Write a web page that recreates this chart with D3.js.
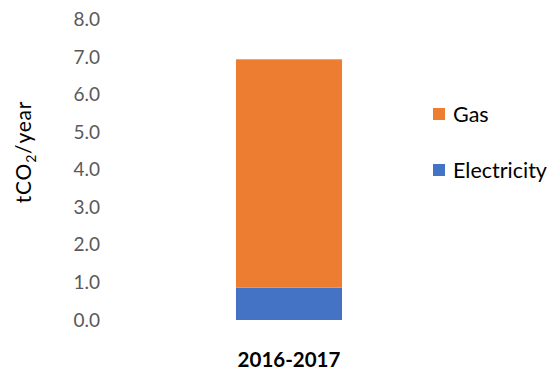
<!DOCTYPE html>
<html>
<head>
<meta charset="utf-8">
<script src="https://cdn.jsdelivr.net/npm/d3@7"></script>
<style>
  html, body { margin: 0; padding: 0; background: #fff; }
  svg { display: block; font-family: Lato, "Open Sans", sans-serif; }
</style>
</head>
<body>
<svg id="chart" width="560" height="372"></svg>
<script>
// Annual emissions by source, tCO2/year
const categories = ["2016-2017"];
const seriesNames = ["Electricity", "Gas"];
const electricity = [0.86];
const gas = [6.08];
const yTicks = [0, 1, 2, 3, 4, 5, 6, 7, 8];
const colors = { Electricity: "#4472C4", Gas: "#ED7D31" };

const svg = d3.select("#chart");
const W = 560, H = 372;
const plot = { top: 19.5, bottom: 320, left: 180, right: 398 };

const x = d3.scaleBand()
  .domain(categories)
  .range([plot.left, plot.right])
  .paddingInner(0.5)
  .paddingOuter(0.264);

const y = d3.scaleLinear()
  .domain([0, 8])
  .range([plot.bottom, plot.top]);

const rows = categories.map((c, i) => ({ cat: c, Electricity: electricity[i], Gas: gas[i] }));
const stacked = d3.stack().keys(seriesNames)(rows);

// bars
svg.append("g").selectAll("g")
  .data(stacked)
  .join("g")
  .attr("fill", d => colors[d.key])
  .selectAll("rect")
  .data(d => d)
  .join("rect")
  .attr("x", d => x(d.data.cat))
  .attr("width", x.bandwidth())
  .attr("y", d => y(d[1]))
  .attr("height", d => y(d[0]) - y(d[1]));

// y axis labels
const yAxis = d3.axisLeft(y).tickValues(yTicks).tickFormat(d3.format(".1f")).tickSize(0).tickPadding(0);
const yg = svg.append("g").attr("transform", "translate(100,0)").call(yAxis);
yg.select(".domain").remove();
yg.selectAll("text")
  .attr("fill", "#595959")
  .style("font-size", "19px")
  .style("font-family", "Lato, 'Open Sans', sans-serif");

// x axis label
const xAxis = d3.axisBottom(x).tickSize(0).tickPadding(0);
const xg = svg.append("g").attr("transform", `translate(0,${plot.bottom})`).call(xAxis);
xg.select(".domain").remove();
xg.selectAll("text")
  .attr("dy", null)
  .attr("y", 47)
  .attr("fill", "#000")
  .style("font-size", "20.5px")
  .style("font-weight", "bold")
  .style("font-family", "Lato, 'Open Sans', sans-serif");

// y title
const title = svg.append("text")
  .attr("transform", "translate(31,152) rotate(-90)")
  .attr("text-anchor", "middle")
  .attr("fill", "#000")
  .style("font-size", "21px")
  .style("letter-spacing", "0.8px");
title.append("tspan").text("tCO");
title.append("tspan").text("2").attr("dy", 5).style("font-size", "14px");
title.append("tspan").text("/year").attr("dy", -5);

// legend (Gas on top)
const legendItems = ["Gas", "Electricity"];
const lg = svg.append("g").selectAll("g")
  .data(legendItems)
  .join("g")
  .attr("transform", (d, i) => `translate(433,${108 + i * 56})`);
lg.append("rect")
  .attr("width", 12).attr("height", 12)
  .attr("fill", d => colors[d]);
lg.append("text")
  .attr("x", 20).attr("y", 14)
  .attr("fill", "#000")
  .style("font-size", "21.5px")
  .text(d => d);
</script>
</body>
</html>
